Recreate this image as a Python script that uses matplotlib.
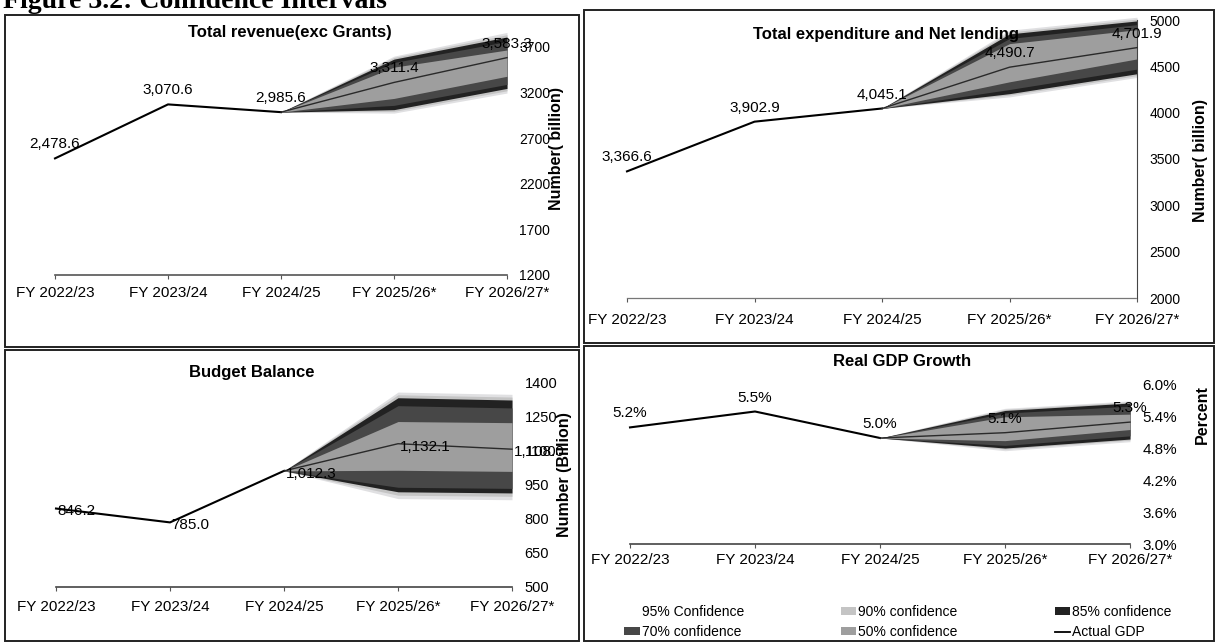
import matplotlib
matplotlib.use("Agg")
import matplotlib.pyplot as plt
from matplotlib.patches import Rectangle, Patch
from matplotlib.lines import Line2D

plt.rcParams['font.family'] = ['Liberation Sans', 'DejaVu Sans']

# ---- data ----
years = ['FY 2022/23', 'FY 2023/24', 'FY 2024/25', 'FY 2025/26*', 'FY 2026/27*']
levels = [95, 90, 85, 70, 50]
level_colors = {95: '#e0e0e2', 90: '#c4c4c4', 85: '#222222', 70: '#474747', 50: '#9e9e9e'}

revenue = [2478.6, 3070.6, 2985.6, 3311.4, 3583.3]
rev_lo = {95: [2985.6, 2975, 3195], 90: [2985.6, 2995, 3220], 85: [2985.6, 3013, 3246],
          70: [2985.6, 3060, 3290], 50: [2985.6, 3136, 3379]}
rev_hi = {95: [2985.6, 3600, 3860], 90: [2985.6, 3585, 3835], 85: [2985.6, 3567, 3810],
          70: [2985.6, 3530, 3760], 50: [2985.6, 3479, 3667]}

expenditure = [3366.6, 3902.9, 4045.1, 4490.7, 4701.9]
exp_lo = {95: [4045.1, 4170, 4380], 90: [4045.1, 4190, 4400], 85: [4045.1, 4205, 4420],
          70: [4045.1, 4250, 4470], 50: [4045.1, 4333, 4580]}
exp_hi = {95: [4045.1, 4890, 5030], 90: [4045.1, 4870, 5010], 85: [4045.1, 4850, 4990],
          70: [4045.1, 4800, 4950], 50: [4045.1, 4745, 4895]}

balance = [846.2, 785.0, 1012.3, 1132.1, 1108.0]
bal_lo = {95: [1012.3, 890, 885], 90: [1012.3, 905, 900], 85: [1012.3, 920, 915],
          70: [1012.3, 940, 935], 50: [1012.3, 1015, 1010]}
bal_hi = {95: [1012.3, 1360, 1350], 90: [1012.3, 1348, 1338], 85: [1012.3, 1335, 1325],
          70: [1012.3, 1300, 1290], 50: [1012.3, 1230, 1225]}

gdp = [5.2, 5.5, 5.0, 5.1, 5.3]
gdp_lo = {95: [5.0, 4.76, 4.93], 90: [5.0, 4.79, 4.96], 85: [5.0, 4.81, 4.98],
          70: [5.0, 4.86, 5.04], 50: [5.0, 4.95, 5.16]}
gdp_hi = {95: [5.0, 5.56, 5.70], 90: [5.0, 5.54, 5.68], 85: [5.0, 5.52, 5.66],
          70: [5.0, 5.47, 5.60], 50: [5.0, 5.40, 5.45]}

W, H = 1217, 643
fig = plt.figure(figsize=(W / 100, H / 100), dpi=100)
fig.patch.set_facecolor('white')


def rect(l, t, r, b):
    return [l / W, 1 - b / H, (r - l) / W, (b - t) / H]


def px(x, y):
    return x / W, 1 - y / H


def fan_panel(box, values, lo, hi, ylim, yticks, tick_fmt, label_fmt,
              label_mode, xpad, spine_style, tick_size=10.5, show_right=False):
    ax = fig.add_axes(rect(*box))
    x = list(range(len(years)))
    xf = x[2:]
    for lev in levels:
        ax.fill_between(xf, lo[lev], hi[lev], color=level_colors[lev],
                        lw=0, clip_on=False, zorder=1 + levels.index(lev) * 0.1)
    ax.plot(x[:3], values[:3], color='black', lw=1.5, zorder=3, clip_on=False)
    ax.plot(xf, values[2:], color='#2a2a2a', lw=1.0, zorder=3, clip_on=False)

    for xi, v in zip(x, values):
        txt = label_fmt(v)
        if label_mode == 'right':
            ax.annotate(txt, (xi, v), xytext=(1, -2), textcoords='offset points',
                        ha='left', va='center', fontsize=11, zorder=4,
                        annotation_clip=False)
        else:
            ax.annotate(txt, (xi, v), xytext=(0, 5), textcoords='offset points',
                        ha='center', va='bottom', fontsize=11, zorder=4,
                        annotation_clip=False)

    ax.set_xlim(0, len(years) - 1)
    ax.set_ylim(*ylim)
    ax.set_xticks(x)
    ax.set_xticklabels(years)
    ax.set_yticks(yticks)
    ax.set_yticklabels([tick_fmt(t) for t in yticks])
    ax.yaxis.tick_right()
    ax.tick_params(axis='y', length=0, pad=9, labelsize=tick_size)
    ax.tick_params(axis='x', direction='out', length=3, width=0.8,
                   color='#555555', pad=xpad, labelsize=11)
    for s in ['top', 'left']:
        ax.spines[s].set_visible(False)
    ax.spines['right'].set_visible(show_right)
    ax.spines['right'].set_color('#444444')
    ax.spines['bottom'].set_color(spine_style[0])
    ax.spines['bottom'].set_linestyle(spine_style[1])
    ax.spines['bottom'].set_linewidth(spine_style[2])
    ax.patch.set_alpha(0)
    return ax


num_fmt = lambda v: f'{v:,.1f}'
int_fmt = lambda t: f'{t:.0f}'

fan_panel((55, 47, 507, 275), revenue, rev_lo, rev_hi, (1200, 3700),
          [1200, 1700, 2200, 2700, 3200, 3700], int_fmt, num_fmt, 'above', 5,
          ('#555555', '-', 1.2), tick_size=10)
fan_panel((627, 20, 1137, 298), expenditure, exp_lo, exp_hi, (2000, 5000),
          [2000, 2500, 3000, 3500, 4000, 4500, 5000], int_fmt, num_fmt, 'above', 8,
          ('#777777', (0, (3, 1)), 0.9), tick_size=10, show_right=True)
fan_panel((56, 383, 512, 587), balance, bal_lo, bal_hi, (500, 1400),
          [500, 650, 800, 950, 1100, 1250, 1400], int_fmt, num_fmt, 'right', 6.5,
          ('#444444', '-', 1.2), tick_size=10.5)
fan_panel((630, 385, 1130, 544), gdp, gdp_lo, gdp_hi, (3.0, 6.0),
          [3.0, 3.6, 4.2, 4.8, 5.4, 6.0], lambda t: f'{t:.1f}%',
          lambda v: f'{v:.1f}%', 'above', 3.5, ('#444444', '-', 1.2), tick_size=11)

# panel titles and axis titles
titles = [('Total revenue(exc Grants)', 290, 33), ('Total expenditure and Net lending', 886, 35),
          ('Budget Balance', 252, 372), ('Real GDP Growth', 902, 362)]
for t, x0, y0 in titles:
    fig.text(*px(x0, y0), t, ha='center', va='center', fontsize=12, fontweight='bold')

ylabels = [('Number( billion)', 557, 149), ('Number( billion)', 1200, 161),
           ('Number (Billion)', 564, 475), ('Percent', 1202, 415)]
for t, x0, y0 in ylabels:
    fig.text(*px(x0, y0), t, ha='center', va='center', rotation=90,
             fontsize=11.5, fontweight='bold')

# legend under the GDP panel
handles = [Patch(facecolor='white', edgecolor='none'),
           Patch(facecolor=level_colors[70]),
           Patch(facecolor=level_colors[90]),
           Patch(facecolor=level_colors[50]),
           Patch(facecolor=level_colors[85]),
           Line2D([], [], color='black', lw=1.3)]
labels = ['95% Confidence', '70% confidence', '90% confidence', '50% confidence',
          '85% confidence', 'Actual GDP']
fig.legend(handles, labels, ncol=3, loc='center', bbox_to_anchor=px(898, 622),
           frameon=False, fontsize=10, handlelength=1.1, handleheight=0.5,
           handletextpad=0.15, columnspacing=7.0, labelspacing=0.45)

# panel frames
for l, t, r, b in [(5, 15, 579, 347), (584, 10, 1214, 343),
                   (5, 350, 579, 641), (584, 346, 1214, 641)]:
    fig.add_artist(Rectangle(px(l, b), (r - l) / W, (b - t) / H, transform=fig.transFigure,
                             fill=False, lw=1.4, edgecolor='#222222'))

fig.text(*px(3, 8), 'Figure 3.2: Confidence Intervals', family=['Liberation Serif', 'DejaVu Serif'],
         fontweight='bold', fontsize=20, ha='left', va='baseline')

fig.savefig('out.png', dpi=100, facecolor='white')
